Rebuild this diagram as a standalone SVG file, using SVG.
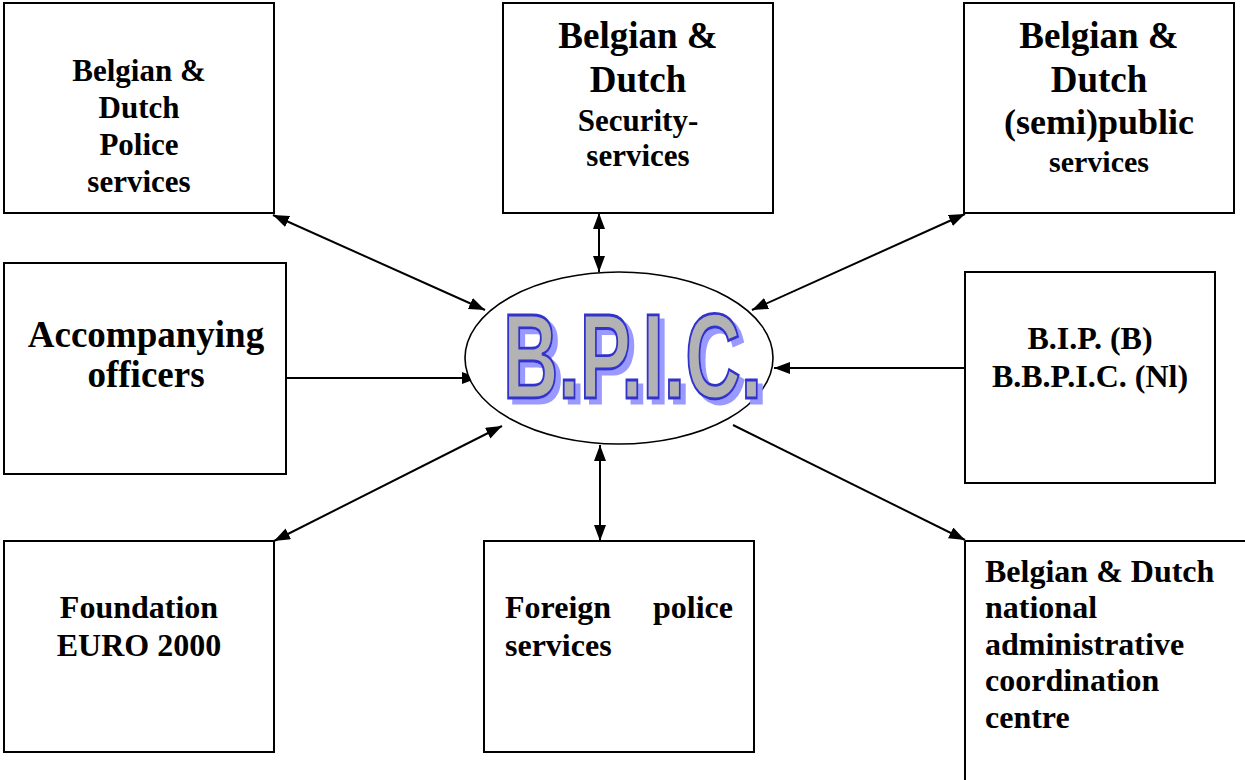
<svg xmlns="http://www.w3.org/2000/svg" width="1245" height="780" viewBox="0 0 1245 780">
  <style>
    .box { fill: #ffffff; stroke: #000000; stroke-width: 2; }
    .lbl { font-family: "Liberation Serif", "Times New Roman", serif; font-weight: bold; fill: #000000; }
    .mid { text-anchor: middle; }
    .conn { stroke: #000000; stroke-width: 2; fill: none; }
    .logo { font-family: "Liberation Sans", Arial, sans-serif; font-weight: bold; font-size: 120px; }
  </style>
  <defs>
    <marker id="arrow" viewBox="0 0 16 12" refX="16" refY="6" markerWidth="16" markerHeight="12" markerUnits="userSpaceOnUse" orient="auto-start-reverse">
      <path d="M0,0 L16,6 L0,12 z" fill="#000000"/>
    </marker>
    <!-- light blue drop shadow behind the hub lettering -->
    <filter id="logoShadow" x="-5%" y="-10%" width="115%" height="130%">
      <feOffset in="SourceAlpha" dx="5" dy="5" result="off"/>
      <feFlood flood-color="#9999ff"/>
      <feComposite in2="off" operator="in" result="shadow"/>
      <feMerge>
        <feMergeNode in="shadow"/>
        <feMergeNode in="SourceGraphic"/>
      </feMerge>
    </filter>
  </defs>
  <rect width="1245" height="780" fill="#ffffff"/>

  <!-- connectors between the centre and the partner boxes -->
  <g id="connectors">
    <line class="conn" x1="273" y1="215" x2="485" y2="310" marker-start="url(#arrow)" marker-end="url(#arrow)"/>
    <line class="conn" x1="599" y1="213" x2="599" y2="272" marker-start="url(#arrow)" marker-end="url(#arrow)"/>
    <line class="conn" x1="965" y1="214" x2="752" y2="310" marker-start="url(#arrow)" marker-end="url(#arrow)"/>
    <line class="conn" x1="286" y1="378" x2="478" y2="378" marker-end="url(#arrow)"/>
    <line class="conn" x1="965" y1="368" x2="774" y2="368" marker-end="url(#arrow)"/>
    <line class="conn" x1="274" y1="541" x2="502" y2="426" marker-start="url(#arrow)" marker-end="url(#arrow)"/>
    <line class="conn" x1="600" y1="445" x2="600" y2="541" marker-start="url(#arrow)" marker-end="url(#arrow)"/>
    <line class="conn" x1="733" y1="425" x2="965" y2="540" marker-end="url(#arrow)"/>
  </g>

  <!-- central hub -->
  <g id="bpic">
    <ellipse cx="619" cy="358" rx="154" ry="86" fill="#ffffff" stroke="#000000" stroke-width="1.6"/>
    <text class="logo" x="503" y="398" textLength="259" lengthAdjust="spacingAndGlyphs" fill="#b3b3b3" stroke="#3333cc" stroke-width="2.8" filter="url(#logoShadow)">B.P.I.C.</text>
  </g>

  <g id="police">
    <rect class="box" x="4" y="3" width="270" height="210"/>
    <text class="lbl mid" font-size="31" x="139"><tspan x="139" y="81">Belgian &amp;</tspan><tspan x="139" y="118">Dutch</tspan><tspan x="139" y="155">Police</tspan><tspan x="139" y="192">services</tspan></text>
  </g>

  <g id="security">
    <rect class="box" x="503" y="3" width="270" height="210"/>
    <text class="lbl mid" x="638"><tspan x="638" y="48" font-size="37">Belgian &amp;</tspan><tspan x="638" y="92" font-size="37">Dutch</tspan><tspan x="638" y="131" font-size="31">Security-</tspan><tspan x="638" y="166" font-size="31">services</tspan></text>
  </g>

  <g id="public">
    <rect class="box" x="964" y="3" width="270" height="210"/>
    <text class="lbl mid" x="1099"><tspan x="1099" y="48" font-size="37">Belgian &amp;</tspan><tspan x="1099" y="92" font-size="37">Dutch</tspan><tspan x="1099" y="134" font-size="36">(semi)public</tspan><tspan x="1099" y="172" font-size="30">services</tspan></text>
  </g>

  <g id="officers">
    <rect class="box" x="4" y="263" width="282" height="211"/>
    <text class="lbl mid" font-size="37" x="146"><tspan x="146" y="347">Accompanying</tspan><tspan x="146" y="387">officers</tspan></text>
  </g>

  <g id="bip">
    <rect class="box" x="965" y="272" width="250" height="211"/>
    <text class="lbl mid" font-size="32" x="1090"><tspan x="1090" y="349">B.I.P. (B)</tspan><tspan x="1090" y="387">B.B.P.I.C. (Nl)</tspan></text>
  </g>

  <g id="foundation">
    <rect class="box" x="4" y="541" width="270" height="211"/>
    <text class="lbl mid" font-size="32" x="139"><tspan x="139" y="618">Foundation</tspan><tspan x="139" y="656">EURO 2000</tspan></text>
  </g>

  <g id="foreign">
    <rect class="box" x="484" y="541" width="270" height="211"/>
    <text class="lbl" font-size="32"><tspan x="505" y="618">Foreign</tspan><tspan x="733" y="618" text-anchor="end">police</tspan><tspan x="505" y="656">services</tspan></text>
  </g>

  <g id="coordination">
    <path class="box" d="M965,541 H1250 M965,541 V785"/>
    <text class="lbl" font-size="32" x="985"><tspan x="985" y="582">Belgian &amp; Dutch</tspan><tspan x="985" y="618">national</tspan><tspan x="985" y="655">administrative</tspan><tspan x="985" y="691">coordination</tspan><tspan x="985" y="728">centre</tspan></text>
  </g>
</svg>
